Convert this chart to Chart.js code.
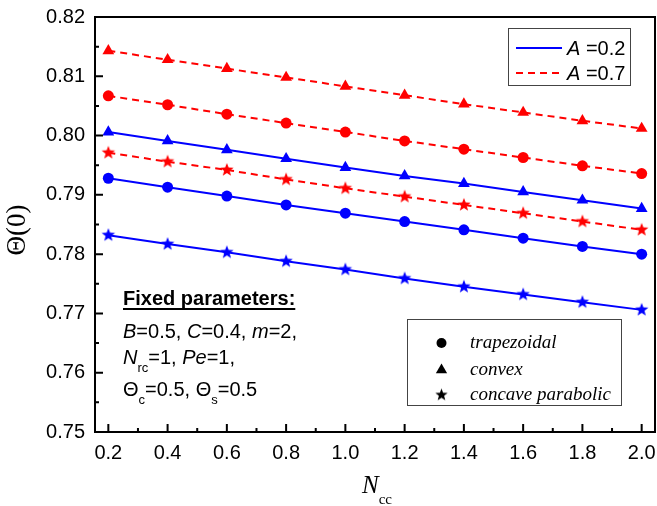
<!DOCTYPE html>
<html>
<head>
<meta charset="utf-8">
<script src="https://cdn.jsdelivr.net/npm/chart.js@4.4.0/dist/chart.umd.min.js"></script>
<style>
  html, body { margin: 0; padding: 0; background: #fff; }
</style>
</head>
<body>
<canvas id="thetaChart" width="657" height="506"></canvas>
<script>
// N_cc values (x axis)
const ncc = [0.2, 0.4, 0.6, 0.8, 1.0, 1.2, 1.4, 1.6, 1.8, 2.0];

// A = 0.2 (blue, solid)
const trapA02 = [0.7928, 0.7913, 0.7898, 0.7883, 0.7869, 0.7855, 0.7841, 0.7827, 0.7813, 0.7800];
const convA02 = [0.8006, 0.7991, 0.7976, 0.7961, 0.7946, 0.7932, 0.7919, 0.7905, 0.7891, 0.7877];
const concA02 = [0.7832, 0.7817, 0.7803, 0.7788, 0.7774, 0.7759, 0.7745, 0.7732, 0.7719, 0.7706];

// A = 0.7 (red, dashed)
const trapA07 = [0.8067, 0.8052, 0.8036, 0.8021, 0.8006, 0.7991, 0.7977, 0.7963, 0.7949, 0.7936];
const convA07 = [0.8143, 0.8128, 0.8113, 0.8098, 0.8083, 0.8068, 0.8053, 0.8039, 0.8025, 0.8012];
const concA07 = [0.7971, 0.7956, 0.7942, 0.7926, 0.7911, 0.7897, 0.7883, 0.7869, 0.7855, 0.7841];

// axis ticks
const xTicks = [0.2, 0.4, 0.6, 0.8, 1.0, 1.2, 1.4, 1.6, 1.8, 2.0];
const xMinor = [0.3, 0.5, 0.7, 0.9, 1.1, 1.3, 1.5, 1.7, 1.9];
const yTicks = [0.75, 0.76, 0.77, 0.78, 0.79, 0.80, 0.81, 0.82];
const yMinor = [0.755, 0.765, 0.775, 0.785, 0.795, 0.805, 0.815];

const BLUE = '#0000ff';
const RED = '#ff0000';
const SANS = '"Liberation Sans", Arial, sans-serif';
const SERIF = '"Liberation Serif", "Times New Roman", serif';

function starImage(color, R) {
    const s = Math.ceil(R * 2) + 2;
    const c = document.createElement('canvas');
    c.width = s; c.height = s;
    const g = c.getContext('2d');
    g.fillStyle = color;
    g.beginPath();
    for (let i = 0; i < 10; i++) {
        const r = i % 2 ? R * 0.42 : R;
        const a = -Math.PI / 2 + i * Math.PI / 5;
        g.lineTo(s / 2 + r * Math.cos(a), s / 2 + r * Math.sin(a));
    }
    g.closePath();
    g.fill();
    return c;
}

const starBlue = starImage(BLUE, 7);
const starRed = starImage(RED, 7);
const starBlack = starImage('#000', 6.5);

function series(label, ys, color, style, dashed) {
    const rad = style === 'triangle' ? 6.8 : 5.5;
    return {
        label: label,
        data: ncc.map((x, i) => ({ x: x, y: ys[i] })),
        borderColor: color,
        backgroundColor: color,
        borderWidth: 2,
        borderDash: dashed ? [7, 5] : [],
        pointStyle: style,
        pointRadius: rad,
        pointBorderWidth: 0,
        pointBackgroundColor: color,
        tension: 0
    };
}

// draws text made of several runs (italic, subscript...)
function runs(ctx, x, y, parts) {
    parts.forEach(p => {
        ctx.font = p.f;
        ctx.fillText(p.t, x, y + (p.dy || 0));
        x += ctx.measureText(p.t).width;
    });
    return x;
}

function noPad(s) {
    s.paddingLeft = 0; s.paddingRight = 0; s.paddingTop = 0; s.paddingBottom = 0;
}

const decorPlugin = {
    id: 'decor',
    afterDraw(chart) {
        const ctx = chart.ctx;
        const a = chart.chartArea;
        const xs = chart.scales.x, ys = chart.scales.y;
        ctx.save();
        ctx.strokeStyle = '#000';
        ctx.fillStyle = '#000';

        // frame
        ctx.lineWidth = 2;
        ctx.strokeRect(a.left, a.top, a.right - a.left, a.bottom - a.top);

        // inward ticks
        ctx.beginPath();
        xTicks.forEach(v => { const p = xs.getPixelForValue(v); ctx.moveTo(p, a.bottom); ctx.lineTo(p, a.bottom - 8); });
        xMinor.forEach(v => { const p = xs.getPixelForValue(v); ctx.moveTo(p, a.bottom); ctx.lineTo(p, a.bottom - 4); });
        yTicks.forEach(v => { const p = ys.getPixelForValue(v); ctx.moveTo(a.left, p); ctx.lineTo(a.left + 8, p); });
        yMinor.forEach(v => { const p = ys.getPixelForValue(v); ctx.moveTo(a.left, p); ctx.lineTo(a.left + 4, p); });
        ctx.stroke();

        // axis titles
        ctx.save();
        ctx.translate(18, 230);
        ctx.rotate(-Math.PI / 2);
        ctx.textAlign = 'center';
        ctx.textBaseline = 'middle';
        ctx.font = '27px ' + SERIF;
        ctx.fillText('\u0398(0)', 0, 0);
        ctx.restore();

        ctx.textAlign = 'left';
        ctx.textBaseline = 'alphabetic';
        runs(ctx, 362, 493, [
            { t: 'N', f: 'italic 25px ' + SERIF },
            { t: 'cc', f: '15px ' + SERIF, dy: 11 }
        ]);

        // fixed parameters note
        ctx.font = 'bold 20px ' + SANS;
        const head = 'Fixed parameters:';
        ctx.fillText(head, 123, 305);
        const hw = ctx.measureText(head).width;
        ctx.lineWidth = 2;
        ctx.beginPath(); ctx.moveTo(123, 309); ctx.lineTo(123 + hw, 309); ctx.stroke();

        const it = 'italic 20px ' + SANS, nr = '20px ' + SANS, sub = '13px ' + SANS;
        runs(ctx, 123, 338, [
            { t: 'B', f: it }, { t: '=0.5, ', f: nr },
            { t: 'C', f: it }, { t: '=0.4, ', f: nr },
            { t: 'm', f: it }, { t: '=2,', f: nr }
        ]);
        runs(ctx, 123, 364, [
            { t: 'N', f: it }, { t: 'rc', f: sub, dy: 8 },
            { t: '=1, ', f: nr }, { t: 'Pe', f: it }, { t: '=1,', f: nr }
        ]);
        runs(ctx, 123, 396, [
            { t: '\u0398', f: nr }, { t: 'c', f: sub, dy: 8 },
            { t: '=0.5, ', f: nr },
            { t: '\u0398', f: nr }, { t: 's', f: sub, dy: 8 },
            { t: '=0.5', f: nr }
        ]);

        // legend: A values
        ctx.lineWidth = 1;
        ctx.strokeStyle = '#444';
        ctx.strokeRect(508.5, 28.5, 122, 57);
        ctx.lineWidth = 2;
        ctx.strokeStyle = BLUE;
        ctx.beginPath(); ctx.moveTo(516, 48); ctx.lineTo(562, 48); ctx.stroke();
        ctx.strokeStyle = RED;
        ctx.setLineDash([7, 5]);
        ctx.beginPath(); ctx.moveTo(516, 73); ctx.lineTo(562, 73); ctx.stroke();
        ctx.setLineDash([]);
        ctx.fillStyle = '#000';
        runs(ctx, 567, 55, [{ t: 'A', f: 'italic 20px ' + SANS }, { t: ' =0.2', f: nr }]);
        runs(ctx, 567, 80, [{ t: 'A', f: 'italic 20px ' + SANS }, { t: ' =0.7', f: nr }]);

        // legend: shapes
        ctx.lineWidth = 1;
        ctx.strokeStyle = '#444';
        ctx.strokeRect(407.5, 319.5, 214, 86);
        ctx.beginPath(); ctx.arc(441.5, 343, 5, 0, Math.PI * 2); ctx.fill();
        const tr = 6.5, ty = 370;
        ctx.beginPath();
        ctx.moveTo(441.5, ty - tr);
        ctx.lineTo(441.5 + tr * Math.sin(2 * Math.PI / 3), ty - tr * Math.cos(2 * Math.PI / 3));
        ctx.lineTo(441.5 - tr * Math.sin(2 * Math.PI / 3), ty - tr * Math.cos(2 * Math.PI / 3));
        ctx.closePath(); ctx.fill();
        ctx.drawImage(starBlack, 441.5 - starBlack.width / 2, 395 - starBlack.height / 2);
        ctx.font = 'italic 19px ' + SERIF;
        ctx.fillText('trapezoidal', 470, 348);
        ctx.fillText('convex', 470, 375);
        ctx.fillText('concave parabolic', 470, 400);

        ctx.restore();
    }
};

new Chart(document.getElementById('thetaChart'), {
    type: 'line',
    data: {
        datasets: [
            series('trapezoidal A=0.2', trapA02, BLUE, 'circle', false),
            series('convex A=0.2', convA02, BLUE, 'triangle', false),
            series('concave parabolic A=0.2', concA02, BLUE, starBlue, false),
            series('trapezoidal A=0.7', trapA07, RED, 'circle', true),
            series('convex A=0.7', convA07, RED, 'triangle', true),
            series('concave parabolic A=0.7', concA07, RED, starRed, true)
        ]
    },
    options: {
        responsive: false,
        animation: false,
        devicePixelRatio: 1,
        layout: { autoPadding: false, padding: { top: 17, right: 2, left: 0, bottom: 0 } },
        plugins: { legend: { display: false }, tooltip: { enabled: false } },
        scales: {
            x: {
                type: 'linear',
                min: 0.155,
                max: 2.045,
                grid: { display: false, drawTicks: false },
                border: { display: false },
                afterBuildTicks: s => { s.ticks = xTicks.map(v => ({ value: v })); },
                afterFit: s => { s.height = 74; noPad(s); },
                ticks: {
                    padding: 9,
                    color: '#000',
                    font: { family: SANS, size: 20 },
                    maxRotation: 0,
                    callback: v => Number(v).toFixed(1)
                }
            },
            y: {
                min: 0.75,
                max: 0.82,
                grid: { display: false, drawTicks: false },
                border: { display: false },
                afterBuildTicks: s => { s.ticks = yTicks.map(v => ({ value: v })); },
                afterFit: s => { s.width = 95; noPad(s); },
                ticks: {
                    padding: 10,
                    color: '#000',
                    font: { family: SANS, size: 20 },
                    callback: v => Number(v).toFixed(2)
                }
            }
        }
    },
    plugins: [decorPlugin]
});
</script>
</body>
</html>
